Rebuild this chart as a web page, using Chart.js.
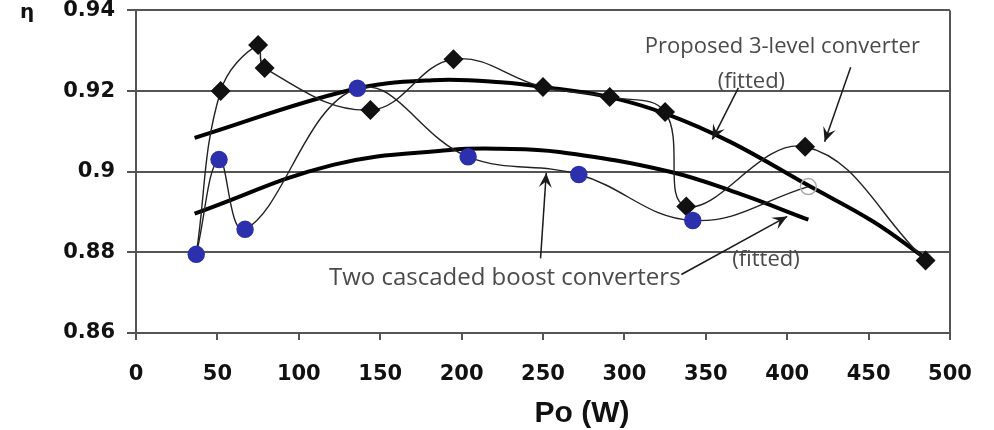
<!DOCTYPE html>
<html>
<head>
<meta charset="utf-8">
<script src="https://cdn.jsdelivr.net/npm/chart.js@4.4.1/dist/chart.umd.min.js"></script>
<style>
    html, body { margin: 0; padding: 0; background: #fff; }
</style>
</head>
<body>
<canvas id="grafico" width="994" height="430"></canvas>
<script>
// pontos medidos (Po em W, eficiencia)
const propostoPo = [37, 52, 75, 79, 144, 195, 250, 291, 325, 338, 411, 485];
const propostoEta = [0.8795, 0.9200, 0.9314, 0.9257, 0.9153, 0.9279, 0.9210, 0.9185, 0.9148, 0.8914, 0.9062, 0.8780];

const cascataPo = [37, 51, 67, 136, 204, 272, 342, 413];
const cascataEta = [0.8795, 0.9030, 0.8857, 0.9207, 0.9037, 0.8993, 0.8879, 0.8963];

// curvas ajustadas
const ajustePropostoPo = [36, 131, 182, 224, 260, 291, 326, 365, 412, 453, 485];
const ajustePropostoEta = [0.9084, 0.9202, 0.9227, 0.9222, 0.9205, 0.9185, 0.9143, 0.9074, 0.8968, 0.8876, 0.8785];

const ajusteCascataPo = [36, 121, 193, 224, 260, 328, 371, 413];
const ajusteCascataEta = [0.8896, 0.9017, 0.9054, 0.9057, 0.9049, 0.9000, 0.8945, 0.8881];

const xTicks = [0, 50, 100, 150, 200, 250, 300, 350, 400, 450, 500];
const yTicks = [0.86, 0.88, 0.90, 0.92, 0.94];
const yTickLabels = ['0.86', '0.88', '0.9', '0.92', '0.94'];

function juntar(xs, ys) {
    return xs.map((x, i) => ({ x: x, y: ys[i] }));
}

// anotacoes em coordenadas de dados
const textos = [
    { texto: 'Proposed 3-level converter', x: 397, y: 0.9311, tam: 22 },
    { texto: '(fitted)', x: 378, y: 0.9222, tam: 22 },
    { texto: 'Two cascaded boost converters', x: 226.5, y: 0.8736, tam: 24 },
    { texto: '(fitted)', x: 387, y: 0.8781, tam: 22 }
];
const setas = [
    { de: [370, 0.9208], para: [354, 0.9080] },
    { de: [439, 0.9259], para: [423, 0.9074] },
    { de: [248.5, 0.8785], para: [252, 0.8997] },
    { de: [335, 0.8745], para: [400, 0.8889] }
];

const azul = '#2c30ad';
const corGrade = '#555';

const pluginExtras = {
    id: 'extras',
    afterDatasetsDraw(chart) {
        const ctx = chart.ctx;
        const sx = chart.scales.x;
        const sy = chart.scales.y;
        const area = chart.chartArea;

        ctx.save();
        // borda direita
        ctx.strokeStyle = corGrade;
        ctx.lineWidth = 2;
        ctx.beginPath();
        ctx.moveTo(area.right, area.top);
        ctx.lineTo(area.right, area.bottom);
        ctx.stroke();

        ctx.fillStyle = '#4a4a4a';
        ctx.textAlign = 'center';
        ctx.textBaseline = 'middle';
        for (const t of textos) {
            ctx.font = t.tam + 'px "Open Sans"';
            ctx.fillText(t.texto, sx.getPixelForValue(t.x), sy.getPixelForValue(t.y));
        }

        ctx.strokeStyle = '#1a1a1a';
        ctx.fillStyle = '#1a1a1a';
        ctx.lineWidth = 1.5;
        for (const s of setas) {
            const x1 = sx.getPixelForValue(s.de[0]);
            const y1 = sy.getPixelForValue(s.de[1]);
            const x2 = sx.getPixelForValue(s.para[0]);
            const y2 = sy.getPixelForValue(s.para[1]);
            const ang = Math.atan2(y2 - y1, x2 - x1);
            ctx.beginPath();
            ctx.moveTo(x1, y1);
            ctx.lineTo(x2, y2);
            ctx.stroke();
            const tam = 16;
            ctx.beginPath();
            ctx.moveTo(x2, y2);
            ctx.lineTo(x2 - tam * Math.cos(ang - 0.42), y2 - tam * Math.sin(ang - 0.42));
            ctx.lineTo(x2 - tam * 0.55 * Math.cos(ang), y2 - tam * 0.55 * Math.sin(ang));
            ctx.lineTo(x2 - tam * Math.cos(ang + 0.42), y2 - tam * Math.sin(ang + 0.42));
            ctx.closePath();
            ctx.fill();
        }

        // eta no topo do eixo e titulo do eixo x
        ctx.fillStyle = '#111';
        ctx.font = 'bold 20px "DejaVu Sans"';
        ctx.fillText('\u03b7', 27, 13);
        ctx.font = 'bold 30px "Liberation Sans", Arial';
        ctx.fillText('Po (W)', sx.getPixelForValue(274), 414);
        ctx.restore();
    }
};

const fonteTick = { family: '"DejaVu Sans"', size: 21, weight: 'bold' };

new Chart(document.getElementById('grafico'), {
    type: 'line',
    data: {
        datasets: [
            {
                label: 'Two cascaded boost converters',
                data: juntar(cascataPo, cascataEta),
                borderColor: '#222',
                borderWidth: 1.4,
                tension: 0.4,
                pointStyle: 'circle',
                pointRadius: 8,
                pointBackgroundColor: cascataPo.map((_, i) => i === cascataPo.length - 1 ? 'rgba(0,0,0,0)' : azul),
                pointBorderColor: cascataPo.map((_, i) => i === cascataPo.length - 1 ? '#aaa' : azul),
                pointBorderWidth: 1.5
            },
            {
                label: 'Proposed 3-level converter',
                data: juntar(propostoPo, propostoEta),
                borderColor: '#222',
                borderWidth: 1.4,
                tension: 0.4,
                pointStyle: 'rectRot',
                pointRadius: propostoPo.map((_, i) => i === 0 ? 0 : 9),
                pointBackgroundColor: '#111',
                pointBorderColor: '#111'
            },
            {
                label: 'Proposed (fitted)',
                data: juntar(ajustePropostoPo, ajustePropostoEta),
                borderColor: '#000',
                borderWidth: 4,
                tension: 0.4,
                pointRadius: 0
            },
            {
                label: 'Cascaded (fitted)',
                data: juntar(ajusteCascataPo, ajusteCascataEta),
                borderColor: '#000',
                borderWidth: 4,
                tension: 0.4,
                pointRadius: 0
            }
        ]
    },
    options: {
        responsive: false,
        animation: false,
        layout: { padding: { top: 8, left: 0, right: 44, bottom: 0 } },
        plugins: {
            legend: { display: false },
            tooltip: { enabled: false }
        },
        scales: {
            x: {
                type: 'linear',
                min: 0,
                max: 500,
                afterBuildTicks: (scale) => { scale.ticks = xTicks.map((v) => ({ value: v })); },
                afterFit: (scale) => { scale.height = 97; scale.paddingLeft = 0; scale.paddingRight = 0; },
                ticks: { color: '#111', font: fonteTick, padding: 22, maxRotation: 0, autoSkip: false },
                grid: { drawOnChartArea: false, drawTicks: true, tickLength: 7, color: corGrade, lineWidth: 2 },
                border: { color: corGrade, width: 2 }
            },
            y: {
                min: 0.86,
                max: 0.94,
                afterBuildTicks: (scale) => { scale.ticks = yTicks.map((v) => ({ value: v })); },
                afterFit: (scale) => { scale.width = 136; scale.paddingTop = 0; scale.paddingBottom = 0; },
                ticks: {
                    color: '#111',
                    font: fonteTick,
                    padding: 12,
                    callback: (valor, indice) => yTickLabels[indice]
                },
                grid: { color: corGrade, lineWidth: 2, tickLength: 9 },
                border: { color: corGrade, width: 2 }
            }
        }
    },
    plugins: [pluginExtras]
});
</script>
</body>
</html>
